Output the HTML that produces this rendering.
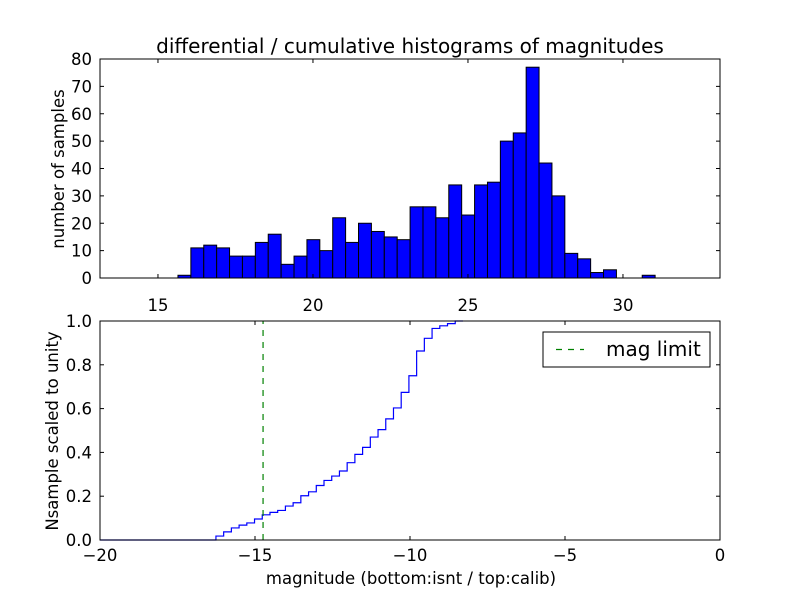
<!DOCTYPE html>
<html><head><meta charset="utf-8"><style>
body{margin:0;background:#fff}
svg text{font-family:"DejaVu Sans","Liberation Sans",sans-serif;fill:#000}
</style></head><body>
<svg id="c" width="800" height="600"></svg>
<script>
const histCounts=[1,11,12,11,8,8,13,16,5,8,14,10,22,13,20,17,15,14,26,26,22,34,23,34,35,50,53,77,42,30,9,7,2,3,0,0,1];
const histStart=15.645, histBinWidth=0.416;
const topXTicks=[15,20,25,30];
const topYTicks=[0,10,20,30,40,50,60,70,80];
const cumValues=[0.018,0.037,0.055,0.068,0.078,0.096,0.115,0.126,0.135,0.155,0.170,0.202,0.220,0.249,0.272,0.292,0.315,0.353,0.391,0.423,0.470,0.504,0.553,0.603,0.674,0.750,0.863,0.921,0.966,0.978,0.988,1.0];
const cumStart=-16.26, cumStep=0.249, cumEnd=-8.3;
const magLimit=-14.74;
const botXTicks=[-20,-15,-10,-5,0];
const botYTicks=[0,0.2,0.4,0.6,0.8,1.0];
const botYLabels=["0.0","0.2","0.4","0.6","0.8","1.0"];

const NS="http://www.w3.org/2000/svg", svg=document.getElementById('c');
function mk(t,a,p){const e=document.createElementNS(NS,t);for(const k in a)e.setAttribute(k,a[k]);(p||svg).appendChild(e);return e;}
const L=100,R=720, FS=16.5;
const tx=v=>L+(v-13.13)*31, ty=v=>278-v*(219/80);
const g1=mk('g',{});


histCounts.forEach((c,i)=>{if(!c)return;const x0=tx(histStart+i*histBinWidth),x1=tx(histStart+(i+1)*histBinWidth);
const r=mk('rect',{x:x0,y:ty(c),width:x1-x0,height:278-ty(c),fill:'#0000ff',stroke:'#000','stroke-width':1},g1);

});
mk('rect',{x:L,y:59,width:R-L,height:219,fill:'none',stroke:'#000','stroke-width':1},g1);
topXTicks.forEach(v=>{const x=tx(v);mk('line',{x1:x,x2:x,y1:278,y2:274,stroke:'#000'},g1);mk('line',{x1:x,x2:x,y1:59,y2:63,stroke:'#000'},g1);
const t=mk('text',{x:x,y:311,'font-size':FS,'text-anchor':'middle'},g1);t.textContent=v;

});
topYTicks.forEach(v=>{const y=ty(v);mk('line',{x1:L,x2:L+4,y1:y,y2:y,stroke:'#000'},g1);mk('line',{x1:R,x2:R-4,y1:y,y2:y,stroke:'#000'},g1);
const t=mk('text',{x:92,y:y+6,'font-size':FS,'text-anchor':'end'},g1);t.textContent=v;

});
let t=mk('text',{x:410,y:53,'font-size':20,'text-anchor':'middle'});t.textContent='differential / cumulative histograms of magnitudes';

t=mk('text',{x:0,y:0,'font-size':FS,'text-anchor':'middle',transform:'translate(64,169) rotate(-90)'});t.textContent='number of samples';

const bx=v=>L+(v+20)*31, by=v=>540-v*219;
const g2=mk('g',{});


let d=`M${bx(-20)},${by(0)} H${bx(cumStart)}`;
cumValues.forEach((v,i)=>{d+=` V${by(v)} H${bx(cumStart+(i+1)*cumStep)}`;});
d+=` H${bx(cumEnd)}`;
const p=mk('path',{d:d,fill:'none',stroke:'#0000ff','stroke-width':1.2},g2);

const ml=mk('line',{x1:bx(magLimit),x2:bx(magLimit),y1:by(0),y2:by(1),stroke:'#008000','stroke-width':1.2,'stroke-dasharray':'6,6'},g2);

mk('rect',{x:L,y:321,width:R-L,height:219,fill:'none',stroke:'#000','stroke-width':1},g2);
botXTicks.forEach(v=>{const x=bx(v);mk('line',{x1:x,x2:x,y1:540,y2:536,stroke:'#000'},g2);mk('line',{x1:x,x2:x,y1:321,y2:325,stroke:'#000'},g2);
const t=mk('text',{x:x,y:561,'font-size':FS,'text-anchor':'middle'},g2);t.textContent=v<0?'\u2212'+(-v):v;
});
botYTicks.forEach((v,i)=>{const y=by(v);mk('line',{x1:L,x2:L+4,y1:y,y2:y,stroke:'#000'},g2);mk('line',{x1:R,x2:R-4,y1:y,y2:y,stroke:'#000'},g2);
const t=mk('text',{x:92,y:y+6,'font-size':FS,'text-anchor':'end'},g2);t.textContent=botYLabels[i];
});
t=mk('text',{x:411,y:584,'font-size':FS,'text-anchor':'middle'});t.textContent='magnitude (bottom:isnt / top:calib)';

t=mk('text',{x:0,y:0,'font-size':FS,'text-anchor':'middle',transform:'translate(58,431) rotate(-90)'});t.textContent='Nsample scaled to unity';

const lg=mk('g',{});

mk('rect',{x:543,y:332,width:167,height:35,fill:'#fff',stroke:'#000'},lg);
mk('line',{x1:556,x2:584,y1:349.5,y2:349.5,stroke:'#008000','stroke-width':1.2,'stroke-dasharray':'6,6'},lg);
t=mk('text',{x:606,y:356,'font-size':20},lg);t.textContent='mag limit';

</script>
</body></html>
